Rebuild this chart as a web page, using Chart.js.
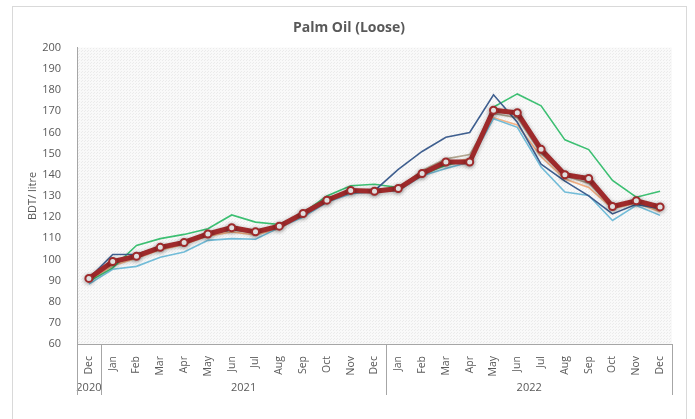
<!DOCTYPE html>
<html>
<head>
<meta charset="utf-8">
<script src="https://cdn.jsdelivr.net/npm/chart.js@4"></script>
<style>
  html, body { margin: 0; padding: 0; background: #fff; }
  #wrap { width: 695px; height: 419px; }
</style>
</head>
<body>
<div id="wrap"><canvas id="palmChart" width="695" height="419"></canvas></div>
<script>
// Month categories: Dec 2020, then Jan-Dec 2021 and Jan-Dec 2022
const months = ['Dec', 'Jan', 'Feb', 'Mar', 'Apr', 'May', 'Jun', 'Jul', 'Aug', 'Sep', 'Oct', 'Nov', 'Dec',
                'Jan', 'Feb', 'Mar', 'Apr', 'May', 'Jun', 'Jul', 'Aug', 'Sep', 'Oct', 'Nov', 'Dec'];
const years = ['2020', '2021', '2022'];
const yearSpans = [1, 12, 12]; // number of months under each year

const yTicks = [60, 200, 10]; // min, max, step

// Price series, BDT per litre
const averagePrice = [91, 99, 101.5, 105.7, 108, 112, 115, 113, 115.7, 121.7, 128, 132.6, 132.2,
                      133.5, 140.6, 146, 146, 170.5, 169.3, 152, 140, 138.2, 125, 127.7, 124.8];
const navyPrice    = [91, 102.3, 102.4, 106, 108.5, 112, 114, 113, 116, 121, 127.5, 132, 132.5,
                      142.5, 151, 157.7, 160, 177.8, 164.8, 145, 137, 130, 121.5, 126, 124];
const greenPrice   = [89.5, 96, 106.6, 109.8, 111.8, 114.5, 121, 117.6, 116.5, 122, 130, 134.8, 135.5,
                      134, 140, 144.5, 147, 172, 178.2, 172.6, 156.5, 151.9, 137.3, 129.4, 132.2];
const cyanPrice    = [88.3, 95.3, 96.7, 101, 103.5, 109, 109.8, 109.5, 115, 120, 127, 131, 132,
                      132.5, 139.5, 143, 146, 166.5, 162.4, 143.6, 131.8, 130.2, 118.4, 125.5, 120.8];
const orangePrice  = [90, 97, 100.5, 104.5, 107, 111, 113, 111.5, 114.5, 121, 128.5, 131.5, 132,
                      133, 141, 145.5, 147.5, 167, 163.5, 148.5, 138, 134, 124, 126.5, 122.5];
const greyPrice    = [90.5, 98, 101, 105, 108, 111.5, 114, 112.5, 115, 121.5, 129, 132, 132.5,
                      133.5, 142, 147.5, 149.5, 169, 167, 150, 139.5, 136, 124.5, 127, 123];

const textColor = '#595959';
const fontFamily = "'Open Sans', 'Liberation Sans', sans-serif";

// dotted fill for the plot area
function makeDots(ctx) {
    const c = document.createElement('canvas');
    c.width = 3; c.height = 3;
    const g = c.getContext('2d');
    g.fillStyle = '#f9f9f9';
    g.fillRect(0, 0, 3, 3);
    g.fillStyle = '#ebebeb';
    g.fillRect(0, 0, 1, 1);
    g.fillRect(1, 2, 1, 1);
    return ctx.createPattern(c, 'repeat');
}

const frame = {
    id: 'frame',
    beforeDraw(chart) {
        const ctx = chart.ctx;
        const a = chart.chartArea;
        ctx.save();
        ctx.fillStyle = '#ffffff';
        ctx.fillRect(0, 0, chart.width, chart.height);
        ctx.strokeStyle = '#d9d9d9';
        ctx.lineWidth = 1;
        ctx.strokeRect(12.5, 6.5, 674, 430);
        ctx.fillStyle = makeDots(ctx);
        ctx.fillRect(a.left, a.top, a.right - a.left, a.bottom - a.top);
        ctx.restore();
    },
    beforeDatasetDraw(chart, args) {
        if (args.index === 0) {
            const ctx = chart.ctx;
            ctx.save();
            ctx.shadowColor = 'rgba(0, 0, 0, 0.3)';
            ctx.shadowBlur = 4;
            ctx.shadowOffsetY = 1;
        }
    },
    afterDatasetDraw(chart, args) {
        if (args.index === 0) chart.ctx.restore();
    },
    afterDraw(chart) {
        // year row under the month labels
        const ctx = chart.ctx;
        const x = chart.scales.x;
        const top = chart.chartArea.bottom;
        const bottom = top + 51;
        const step = x.getPixelForValue(1) - x.getPixelForValue(0);
        ctx.save();
        ctx.strokeStyle = '#a6a6a6';
        ctx.lineWidth = 1;
        ctx.fillStyle = textColor;
        ctx.font = '11px ' + fontFamily;
        ctx.textAlign = 'center';
        ctx.textBaseline = 'middle';
        let start = 0;
        const edges = [x.getPixelForValue(0) - step / 2];
        years.forEach((yr, i) => {
            const end = start + yearSpans[i];
            const left = x.getPixelForValue(start) - step / 2;
            const right = x.getPixelForValue(end - 1) + step / 2;
            edges.push(right);
            ctx.fillText(yr, (left + right) / 2, top + 44);
            start = end;
        });
        edges.forEach(e => {
            const px = Math.round(e) + 0.5;
            ctx.beginPath();
            ctx.moveTo(px, top);
            ctx.lineTo(px, bottom);
            ctx.stroke();
        });
        ctx.restore();
    }
};

function thinLine(label, data, color) {
    return {
        label: label,
        data: data,
        borderColor: color,
        borderWidth: 1.6,
        pointRadius: 0,
        tension: 0,
        order: 1
    };
}

new Chart(document.getElementById('palmChart').getContext('2d'), {
    type: 'line',
    data: {
        labels: months,
        datasets: [
            {
                label: 'Average',
                data: averagePrice,
                borderColor: '#9e2a2b',
                borderWidth: 5,
                pointRadius: 3.5,
                pointBorderWidth: 2,
                pointBackgroundColor: '#ffffff',
                pointBorderColor: '#9e2a2b',
                tension: 0,
                order: 0
            },
            thinLine('Series 2', navyPrice, '#3f5f8f'),
            thinLine('Series 3', greenPrice, '#3cbf72'),
            thinLine('Series 4', cyanPrice, '#72bcd8'),
            thinLine('Series 5', orangePrice, '#f4b184'),
            thinLine('Series 6', greyPrice, '#b3a791')
        ]
    },
    options: {
        responsive: false,
        animation: false,
        layout: { padding: { left: 26, right: 23, top: 16, bottom: 24 } },
        plugins: {
            legend: { display: false },
            tooltip: { enabled: false },
            title: {
                display: true,
                text: 'Palm Oil (Loose)',
                color: textColor,
                font: { family: fontFamily, size: 14, weight: 'bold' },
                padding: { top: 4, bottom: 11 }
            }
        },
        scales: {
            x: {
                offset: true,
                grid: { display: false },
                border: { color: '#a6a6a6' },
                ticks: {
                    color: textColor,
                    font: { family: fontFamily, size: 10.5 },
                    maxRotation: 90,
                    minRotation: 90,
                    autoSkip: false,
                    padding: 4
                },
                afterFit(scale) { scale.height = 51; }
            },
            y: {
                min: yTicks[0],
                max: yTicks[1],
                grid: { display: false },
                border: { color: '#a6a6a6' },
                ticks: {
                    stepSize: yTicks[2],
                    color: textColor,
                    font: { family: fontFamily, size: 11 },
                    padding: 8
                },
                title: {
                    display: true,
                    text: 'BDT/ litre',
                    color: textColor,
                    font: { family: fontFamily, size: 11 },
                    padding: 0
                },
                afterFit(scale) { scale.width = 51; }
            }
        }
    },
    plugins: [frame]
});
</script>
</body>
</html>
